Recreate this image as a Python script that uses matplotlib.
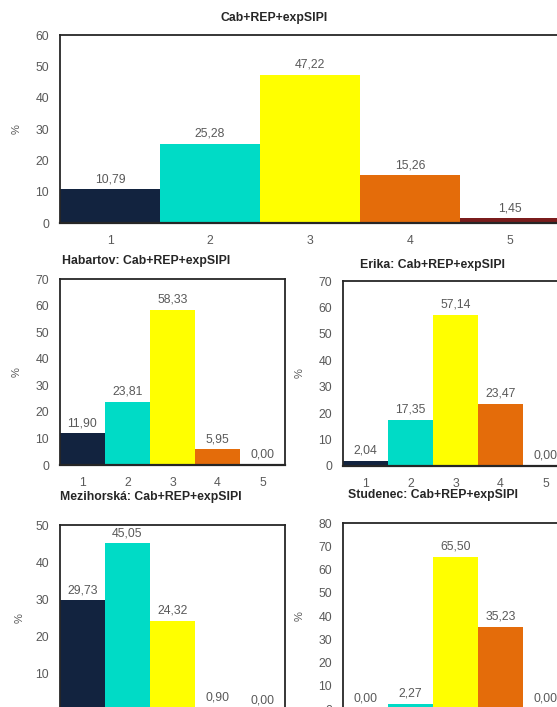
import numpy as np
import matplotlib.pyplot as plt

plt.rcParams['font.family'] = ['Liberation Sans', 'DejaVu Sans']

# classes 1..5 and percent shares per site
classes = [1, 2, 3, 4, 5]
total_vals = [10.79, 25.28, 47.22, 15.26, 1.45]
habartov_vals = [11.90, 23.81, 58.33, 5.95, 0.00]
erika_vals = [2.04, 17.35, 57.14, 23.47, 0.00]
mezihorska_vals = [29.73, 45.05, 24.32, 0.90, 0.00]
studenec_vals = [0.00, 2.27, 65.50, 35.23, 0.00]

bar_colors = ['#12233f', '#00dbc6', '#ffff00', '#e46c0a', '#7a1c1c']
text_gray = '#595959'

W, H = 557, 707
fig = plt.figure(figsize=(W / 100, H / 100), dpi=100)


def px_axes(left, right, top, bottom):
    # pixel box -> figure fraction
    return fig.add_axes([left / W, 1 - bottom / H, (right - left) / W, (bottom - top) / H])


def bar_panel(ax, values, ymax, step, ylab_x, show_x=True):
    ax.bar(classes, values, width=1.0, color=bar_colors, edgecolor='none')
    ax.set_xlim(0.5, 5.5)
    ax.set_ylim(0, ymax)
    ax.set_yticks(np.arange(0, ymax + 1, step))
    ax.set_xticks(classes)
    ax.tick_params(length=0, labelsize=8.8, labelcolor=text_gray)
    ax.tick_params(axis='y', pad=8)
    ax.tick_params(axis='x', pad=8.5, labelbottom=show_x)
    for s in ax.spines.values():
        s.set_color('#262626')
        s.set_linewidth(1.3)
    ax.spines['bottom'].set_linewidth(1.6)
    for x, v in zip(classes, values):
        ax.annotate(f'{v:.2f}'.replace('.', ','), (x, v), xytext=(0, 3),
                    textcoords='offset points', ha='center', va='bottom',
                    fontsize=8.8, color=text_gray)
    ax.set_ylabel('%', fontsize=8, color=text_gray)
    ax.yaxis.set_label_coords(ylab_x, 0.5)


ax_top = px_axes(60, 560, 35, 223)
bar_panel(ax_top, total_vals, 60, 10, -0.076)

ax_hab = px_axes(60, 285, 279, 465)
bar_panel(ax_hab, habartov_vals, 70, 10, -0.17)

ax_eri = px_axes(343, 568, 281, 466)
bar_panel(ax_eri, erika_vals, 70, 10, -0.17)

# lower row is cut by the picture's bottom edge, x labels fall outside
ax_mez = px_axes(60, 285, 525, 711)
bar_panel(ax_mez, mezihorska_vals, 50, 10, -0.156, show_x=False)

ax_stu = px_axes(343, 568, 523, 709)
bar_panel(ax_stu, studenec_vals, 80, 10, -0.17, show_x=False)

# chart titles
titles = [
    ('Cab+REP+expSIPI', 274, 18),
    ('Habartov: Cab+REP+expSIPI', 146, 261),
    ('Erika: Cab+REP+expSIPI', 433, 265),
    ('Mezihorská: Cab+REP+expSIPI', 151, 497),
    ('Studenec: Cab+REP+expSIPI', 433, 495),
]
for t, x, y in titles:
    fig.text(x / W, 1 - y / H, t, ha='center', va='center',
             fontsize=8.8, fontweight='bold', color='#262626')

fig.savefig('out.png', dpi=100)
